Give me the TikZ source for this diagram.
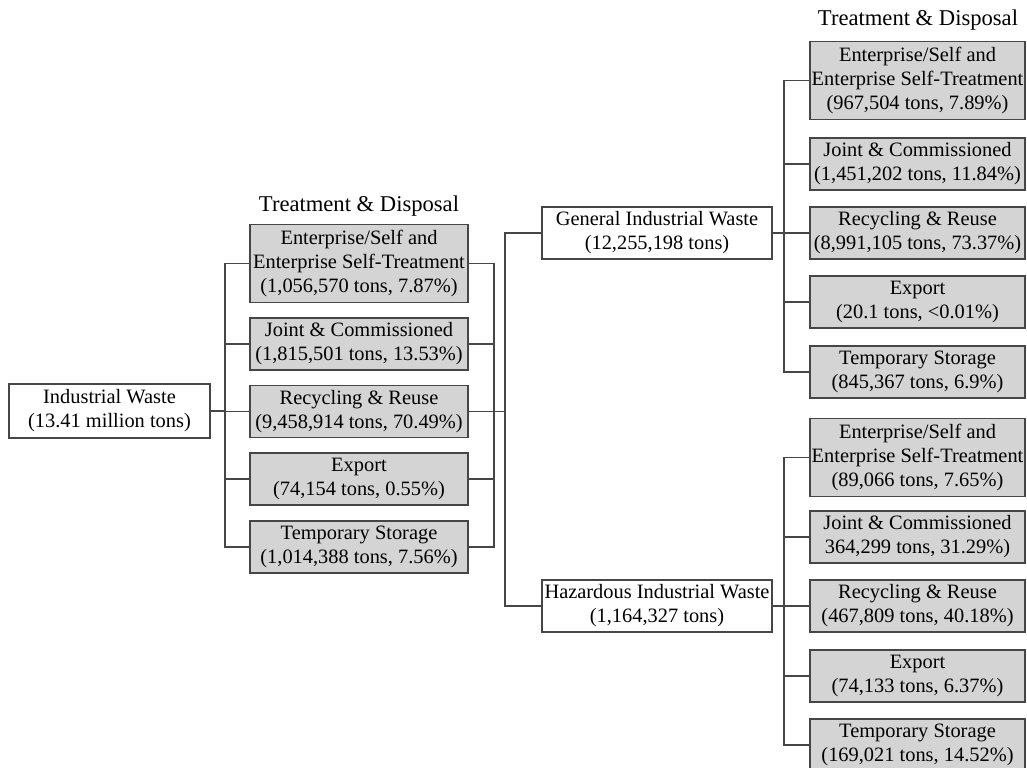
\documentclass[tikz,border=0pt]{standalone}
\usepackage{fontspec}
\setmainfont{Liberation Serif}
\usepackage{tikz}
\definecolor{boxgray}{RGB}{212,212,212}
\definecolor{linegray}{RGB}{70,70,70}

\begin{document}
\begin{tikzpicture}[x=0.5pt,y=-0.5pt,
		box/.style={draw=linegray, line width=0.9pt, fill=white, align=center, inner sep=1pt,
			font=\fontsize{10.2}{12}\selectfont},
		graybox/.style={box, fill=boxgray, minimum height=26pt},
		tall/.style={minimum height=39pt},
		ttl/.style={font=\fontsize{11.3}{13}\selectfont},
		link/.style={draw=linegray, line width=0.9pt}]
		\useasboundingbox (0,0) rectangle (1027,767);
		\clip (0,0) rectangle (1027,767);
		
		% Source
		\node[box, minimum width=100.5pt, minimum height=27pt] (iw) at (109.5,411) {Industrial Waste\\(13.41 million tons)};
		
		% Treatment & Disposal (all)
		\node[ttl] (tdm) at (359,206) {Treatment \& Disposal};
		\node[graybox, tall, minimum width=109pt] (m1) at (359,263.5) {Enterprise/Self and\\Enterprise Self-Treatment\\(1,056,570 tons, 7.87\%)};
		\node[graybox, minimum width=109pt] (m2) at (359,344) {Joint \& Commissioned\\(1,815,501 tons, 13.53\%)};
		\node[graybox, minimum width=109pt] (m3) at (359,411.5) {Recycling \& Reuse\\(9,458,914 tons, 70.49\%)};
		\node[graybox, minimum width=109pt] (m4) at (359,479) {Export\\(74,154 tons, 0.55\%)};
		\node[graybox, minimum width=109pt] (m5) at (359,547) {Temporary Storage\\(1,014,388 tons, 7.56\%)};
		
		% General / Hazardous
		\node[box, minimum width=115pt, minimum height=26pt] (gen) at (657,233) {General Industrial Waste\\(12,255,198 tons)};
		\node[box, minimum width=115pt, minimum height=26pt] (haz) at (657,606) {Hazardous Industrial Waste\\(1,164,327 tons)};
		
		% Treatment & Disposal (general)
		\node[ttl] (tdr) at (918,20) {Treatment \& Disposal};
		\node[graybox, tall, minimum width=107.5pt] (r1) at (917.5,80.5) {Enterprise/Self and\\Enterprise Self-Treatment\\(967,504 tons, 7.89\%)};
		\node[graybox, minimum width=107.5pt] (r2) at (917.5,164) {Joint \& Commissioned\\(1,451,202 tons, 11.84\%)};
		\node[graybox, minimum width=107.5pt] (r3) at (917.5,233) {Recycling \& Reuse\\(8,991,105 tons, 73.37\%)};
		\node[graybox, minimum width=107.5pt] (r4) at (917.5,302) {Export\\(20.1 tons, <0.01\%)};
		\node[graybox, minimum width=107.5pt] (r5) at (917.5,372) {Temporary Storage\\(845,367 tons, 6.9\%)};
		
		% Treatment & Disposal (hazardous)
		\node[graybox, tall, minimum width=107.5pt] (h1) at (917.5,457.5) {Enterprise/Self and\\Enterprise Self-Treatment\\(89,066 tons, 7.65\%)};
		\node[graybox, minimum width=107.5pt] (h2) at (917.5,537) {Joint \& Commissioned\\364,299 tons, 31.29\%)};
		\node[graybox, minimum width=107.5pt] (h3) at (917.5,606) {Recycling \& Reuse\\(467,809 tons, 40.18\%)};
		\node[graybox, minimum width=107.5pt] (h4) at (917.5,676) {Export\\(74,133 tons, 6.37\%)};
		\node[graybox, minimum width=107.5pt] (h5) at (917.5,745) {Temporary Storage\\(169,021 tons, 14.52\%)};
		
		% Brackets
		\foreach \n in {m1,m2,m3,m4,m5}
			\draw[link] (iw.east) -- ++(7pt,0) |- (\n.west);
		\foreach \n in {m1,m2,m3,m4,m5}
			\draw[link] (\n.east) -- ++(12.5pt,0) |- (m3.east);
		\draw[link] (m3.east) -- ++(18pt,0) |- (gen.west);
		\draw[link] (m3.east) -- ++(18pt,0) |- (haz.west);
		\foreach \n in {r1,r2,r3,r4,r5}
			\draw[link] (gen.east) -- ++(5.5pt,0) |- (\n.west);
		\foreach \n in {h1,h2,h3,h4,h5}
			\draw[link] (haz.east) -- ++(5.5pt,0) |- (\n.west);
\end{tikzpicture}
\end{document}
